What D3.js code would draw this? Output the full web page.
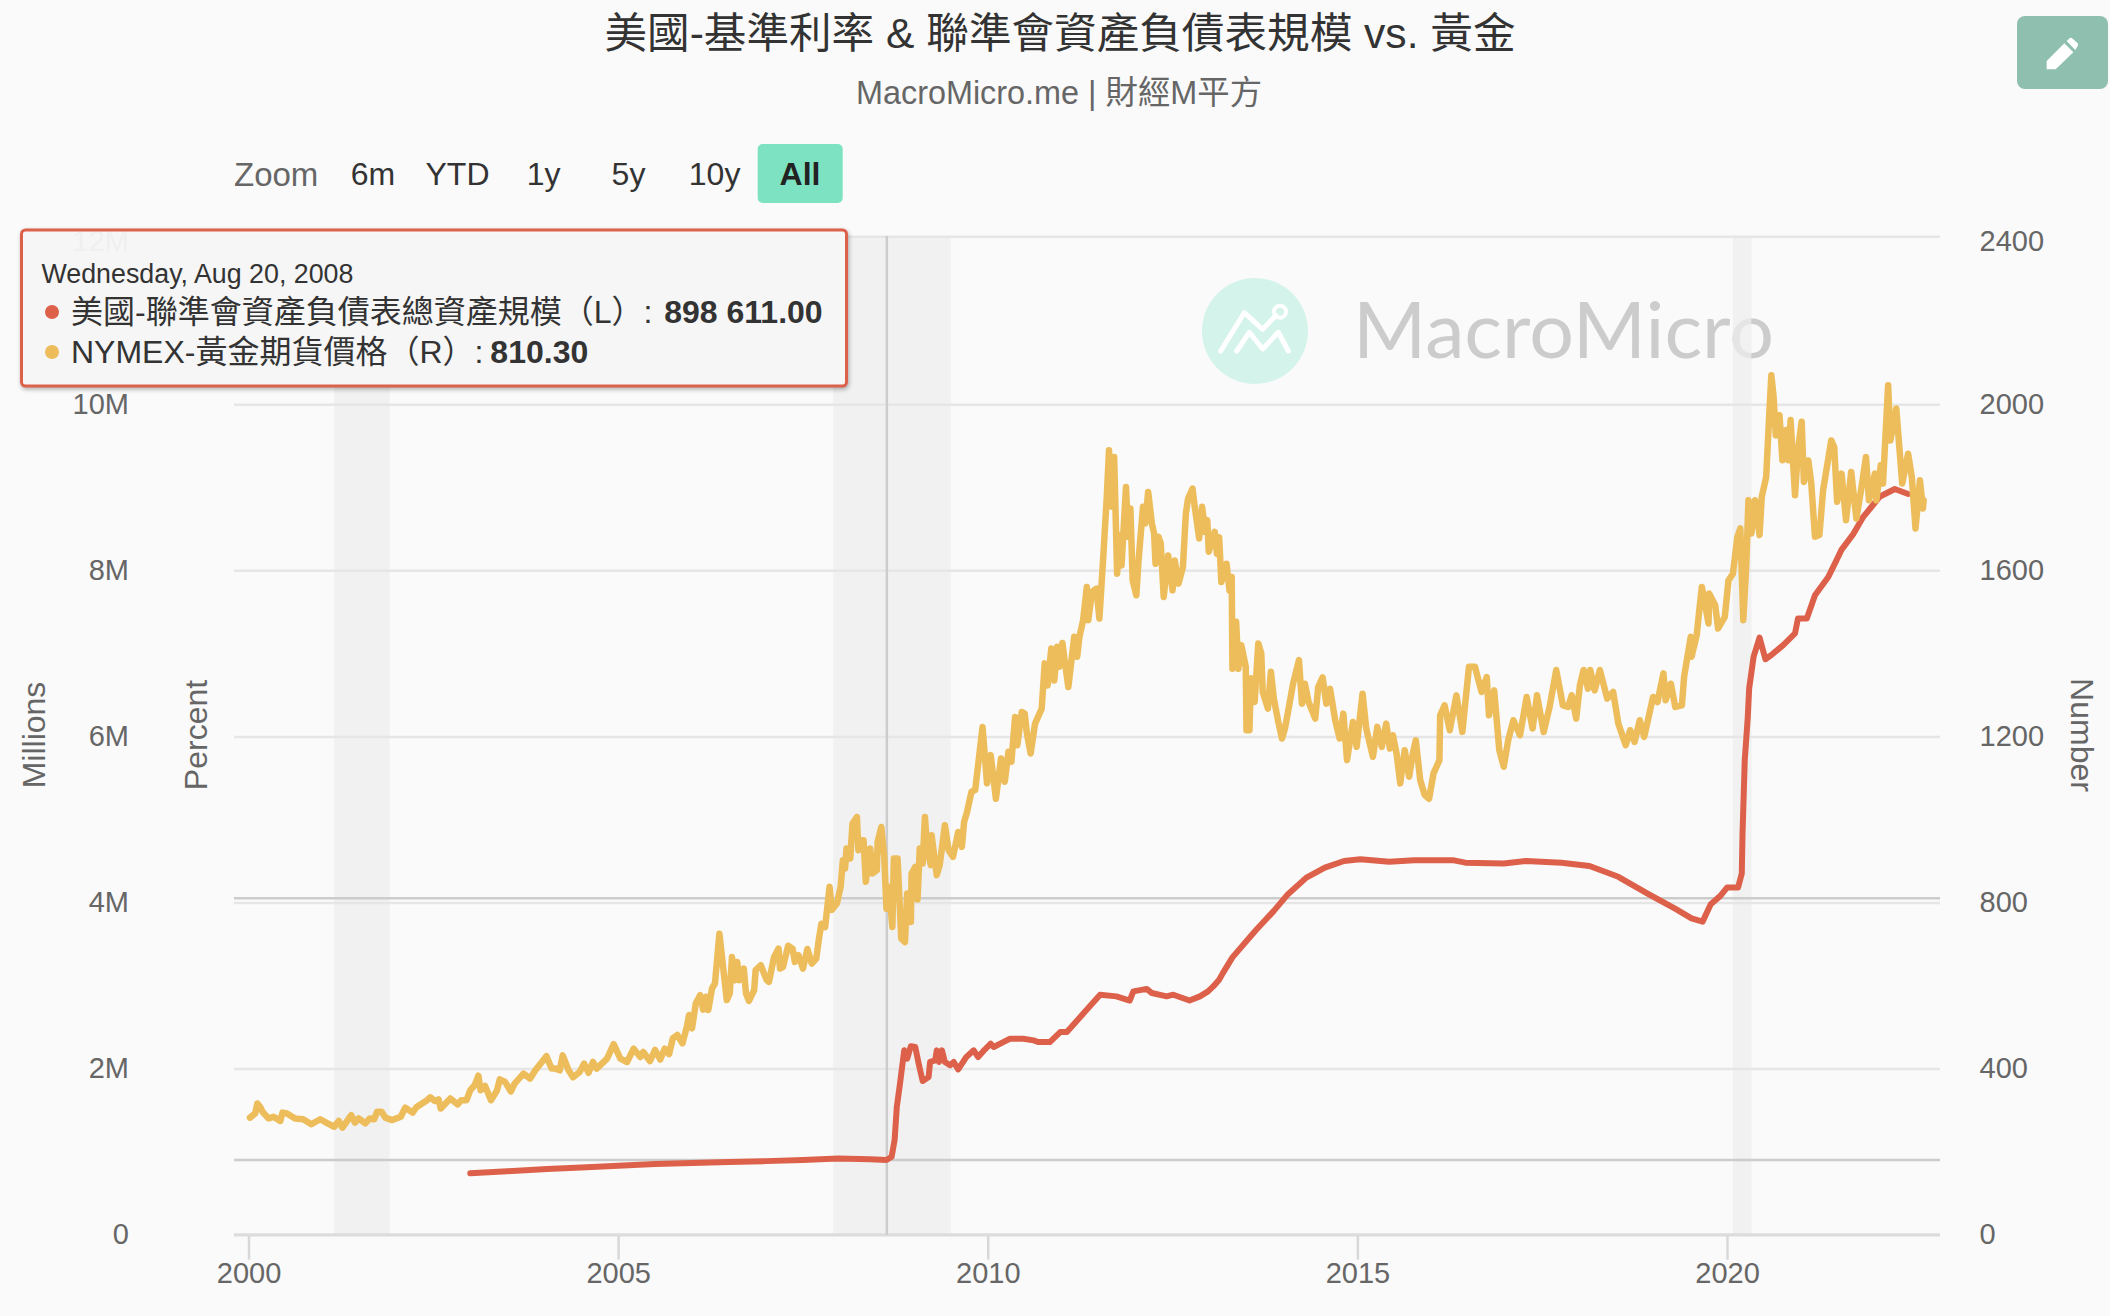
<!DOCTYPE html>
<html>
<head>
<meta charset="utf-8">
<script src="https://cdn.jsdelivr.net/npm/d3@7"></script>
<style>
body { margin: 0; background: #fafafa; }
svg { display: block; font-family: "Liberation Sans", "Noto Sans CJK TC", sans-serif; }
</style>
</head>
<body>
<div id="chart"></div>
<script>
var w = 2110;
var h = 1316;

// values
var goldYears = [
    2000.02,2000.09,2000.12,2000.16,2000.19,2000.27,2000.34,2000.43,2000.46,2000.52,2000.63,2000.74,2000.85,2000.97,
    2001.07,2001.16,2001.22,2001.27,2001.39,2001.44,2001.49,2001.58,2001.64,2001.70,2001.74,2001.80,2001.85,2001.94,
    2002.06,2002.12,2002.22,2002.27,2002.41,2002.46,2002.52,2002.57,2002.60,2002.73,2002.83,2002.88,2002.95,
    2003.00,2003.06,2003.11,2003.14,2003.20,2003.28,2003.36,2003.40,2003.47,2003.55,2003.60,2003.72,2003.81,2003.88,
    2004.03,2004.10,2004.15,2004.21,2004.25,2004.33,2004.39,2004.48,2004.54,2004.60,2004.66,2004.71,2004.85,2004.94,
    2005.03,2005.12,2005.21,2005.30,2005.34,2005.43,2005.50,2005.57,2005.63,2005.69,2005.74,2005.80,2005.87,2005.93,2005.96,
    2006.00,2006.05,2006.11,2006.15,2006.19,2006.22,2006.27,2006.31,2006.37,2006.41,2006.47,2006.51,2006.54,2006.58,2006.61,2006.64,2006.70,2006.73,2006.77,2006.84,2006.86,2006.93,
    2007.01,2007.04,2007.11,2007.17,2007.19,2007.23,2007.30,2007.36,2007.39,2007.44,2007.50,2007.56,2007.62,2007.68,2007.72,2007.75,2007.80,2007.86,2007.89,2007.96,
    2008.01,2008.04,2008.07,2008.09,2008.14,2008.17,2008.23,2008.25,2008.28,2008.32,2008.35,2008.41,2008.44,2008.50,2008.51,2008.56,2008.60,2008.63,2008.66,2008.71,2008.73,2008.78,2008.83,2008.88,2008.91,2008.96,2008.97,
    2009.02,2009.05,2009.08,2009.12,2009.15,2009.18,2009.23,2009.24,2009.31,2009.35,2009.42,2009.47,2009.53,2009.60,2009.65,2009.68,2009.72,2009.78,2009.83,2009.93,2009.99,
    2010.04,2010.11,2010.18,2010.23,2010.28,2010.32,2010.37,2010.40,2010.46,2010.50,2010.53,2010.58,2010.64,2010.73,2010.77,2010.81,2010.86,2010.90,2010.94,2010.97,
    2011.01,2011.04,2011.09,2011.17,2011.21,2011.24,2011.29,2011.34,2011.36,2011.41,2011.47,2011.51,2011.56,2011.61,2011.64,2011.68,2011.71,2011.75,2011.78,2011.81,2011.87,2011.90,2011.93,2011.96,
    2012.01,2012.04,2012.10,2012.13,2012.17,2012.22,2012.25,2012.27,2012.31,2012.34,2012.38,2012.44,2012.50,2012.53,2012.58,2012.64,2012.68,2012.71,2012.77,2012.80,2012.86,2012.90,2012.94,2012.97,2012.99,
    2013.07,2013.10,2013.13,2013.16,2013.23,2013.27,2013.30,2013.31,2013.36,2013.39,2013.43,2013.49,2013.50,2013.54,2013.56,2013.61,2013.66,2013.70,2013.72,2013.79,2013.83,2013.87,2013.93,2013.98,
    2014.02,2014.07,2014.13,2014.21,2014.25,2014.29,2014.34,2014.43,2014.47,2014.53,2014.58,2014.63,2014.70,2014.76,2014.81,2014.86,2014.94,2014.99,
    2015.07,2015.12,2015.21,2015.27,2015.33,2015.39,2015.44,2015.48,2015.53,2015.58,2015.64,2015.70,2015.75,2015.79,2015.85,2015.91,2015.97,
    2016.03,2016.11,2016.12,2016.18,2016.25,2016.34,2016.42,2016.51,2016.59,2016.68,2016.75,2016.78,2016.85,2016.92,2016.98,
    2017.04,2017.11,2017.20,2017.29,2017.37,2017.43,2017.52,2017.60,2017.69,2017.78,2017.85,2017.90,2017.96,
    2018.01,2018.06,2018.12,2018.15,2018.21,2018.28,2018.38,2018.46,2018.53,2018.63,2018.69,2018.75,2018.82,2018.88,
    2019.00,2019.06,2019.14,2019.17,2019.24,2019.30,2019.39,2019.42,2019.51,2019.52,2019.59,2019.63,2019.66,2019.75,2019.76,2019.84,2019.88,2019.97,
    2020.02,2020.08,2020.14,2020.18,2020.22,2020.26,2020.29,2020.33,2020.38,2020.44,2020.47,2020.53,2020.57,2020.60,2020.63,2020.66,2020.71,2020.75,2020.80,2020.83,2020.86,2020.92,2020.96,
    2021.01,2021.04,2021.10,2021.14,2021.19,2021.25,2021.30,2021.41,2021.45,2021.49,2021.55,2021.61,2021.68,2021.75,2021.82,2021.88,2021.92,
    2022.00,2022.02,2022.08,2022.11,2022.18,2022.21,2022.29,2022.37,2022.45,2022.50,2022.55,2022.61,2022.65,2022.66
];
var goldPrices = [
    282,292,316,307,296,280,284,274,294,292,280,278,266,278,
    268,260,274,258,288,270,280,268,280,278,296,296,282,276,
    284,306,294,307,323,331,322,326,304,328,314,324,324,
    348,360,383,348,358,324,347,374,368,345,364,388,376,396,
    430,400,400,396,432,396,379,392,412,390,416,400,424,459,
    424,416,448,428,440,418,445,422,448,435,473,481,461,501,529,
    497,557,577,542,573,541,593,605,725,661,565,581,669,613,657,613,641,581,563,589,637,649,
    613,609,669,689,641,645,696,689,657,673,641,688,653,665,717,749,741,838,782,798,
    838,902,882,930,906,990,1006,926,950,950,850,930,870,878,946,982,910,785,838,741,906,906,713,705,822,753,870,
    886,807,930,894,1006,934,890,962,866,890,986,926,910,970,934,994,1018,1067,1071,1223,1087,
    1155,1050,1147,1091,1163,1139,1247,1179,1259,1255,1207,1159,1231,1267,1376,1323,1412,1335,1416,1368,
    1425,1384,1319,1440,1392,1440,1480,1560,1480,1548,1556,1484,1624,1777,1889,1753,1873,1592,1685,1612,1801,1681,1749,1576,
    1540,1624,1753,1713,1789,1713,1689,1616,1681,1665,1536,1636,1552,1624,1568,1608,1737,1773,1797,1753,1677,1753,1693,1721,1645,
    1693,1640,1680,1572,1616,1552,1584,1363,1476,1363,1420,1368,1215,1215,1340,1283,1424,1400,1307,1267,1356,1291,1235,1195,
    1219,1267,1327,1384,1279,1327,1283,1243,1319,1342,1279,1315,1239,1195,1255,1143,1235,1175,
    1303,1219,1151,1223,1175,1231,1171,1203,1159,1087,1167,1103,1159,1191,1095,1059,1050,
    1111,1143,1251,1275,1215,1299,1211,1368,1368,1307,1343,1251,1311,1167,1127,
    1191,1239,1203,1295,1219,1299,1211,1271,1360,1275,1271,1299,1243,
    1323,1360,1315,1360,1311,1360,1291,1307,1231,1179,1215,1187,1239,1199,
    1295,1283,1352,1287,1327,1271,1275,1344,1440,1392,1444,1512,1560,1472,1544,1516,1460,1488,
    1576,1592,1680,1701,1480,1608,1769,1689,1769,1685,1777,1825,1970,2070,2018,1925,1974,1865,1938,1865,1962,1781,1889,
    1958,1813,1865,1809,1681,1685,1793,1913,1897,1765,1833,1721,1837,1725,1801,1873,1769,
    1833,1769,1853,1809,2046,1913,1990,1809,1881,1825,1701,1817,1749,1769
];
var assetYears = [
    2003.00,2003.50,2004.04,2004.50,2005.00,2005.50,2006.00,2006.50,2007.00,2007.50,2007.97,2008.41,2008.63,2008.70,2008.74,2008.77,2008.81,2008.87,2008.91,2008.96,
    2009.02,2009.07,2009.12,2009.20,2009.22,2009.29,2009.31,2009.34,2009.38,2009.42,2009.49,2009.54,2009.60,2009.71,2009.81,2009.87,2009.96,
    2010.04,2010.08,2010.21,2010.30,2010.48,2010.62,2010.68,2010.84,2010.98,2011.07,2011.29,2011.52,2011.74,2011.92,2011.97,
    2012.15,2012.22,2012.42,2012.51,2012.73,2012.87,2012.98,2013.05,2013.13,2013.18,2013.31,2013.62,2013.87,
    2014.05,2014.31,2014.56,2014.82,2015.04,2015.43,2015.77,2016.29,2016.46,2016.98,2017.28,2017.76,
    2018.14,2018.53,2018.92,2019.31,2019.52,2019.67,2019.78,2019.91,2020.00,2020.15,2020.20,2020.21,2020.24,2020.28,2020.30,2020.36,2020.44,2020.52,2020.60,2020.76,2020.92,2020.96,
    2021.08,2021.19,2021.37,2021.48,2021.55,2021.71,2021.84,2021.95,2022.07,2022.27,2022.45
];
var assetValues = [
    0.739,0.765,0.79,0.81,0.83,0.85,0.862,0.875,0.886,0.90,0.917,0.91,0.899,0.94,1.14,1.54,1.80,2.22,2.12,2.27,
    2.26,2.04,1.85,1.90,2.08,2.10,2.22,2.08,2.22,2.08,2.04,2.08,1.99,2.14,2.22,2.14,2.23,
    2.30,2.26,2.32,2.36,2.36,2.34,2.32,2.32,2.44,2.44,2.66,2.89,2.87,2.82,2.93,
    2.96,2.91,2.87,2.89,2.82,2.87,2.93,2.99,3.07,3.15,3.34,3.66,3.90,
    4.09,4.30,4.42,4.50,4.52,4.49,4.51,4.51,4.48,4.47,4.50,4.48,
    4.44,4.31,4.11,3.92,3.81,3.77,3.98,4.08,4.18,4.18,4.35,4.83,5.71,6.22,6.58,6.96,7.19,6.93,6.98,7.10,7.24,7.42,
    7.42,7.70,7.92,8.12,8.25,8.44,8.64,8.76,8.89,8.98,8.92
];
var recessions = [[2001.16, 2001.91], [2007.91, 2009.5], [2020.08, 2020.33]];
var xTicks = [2000, 2005, 2010, 2015, 2020];
var leftTicks = [0, 2, 4, 6, 8, 10, 12];
var rightTicks = [0, 400, 800, 1200, 1600, 2000, 2400];
var zoomButtons = ["6m", "YTD", "1y", "5y", "10y", "All"];
var hoverYear = 2008.635;
var hoverAsset = 0.898611;
var hoverGold = 810.3;

var red = "#dd614a";
var gold = "#edbd5b";

var plotLeft = 234, plotRight = 1940, plotTop = 236, plotBottom = 1234.7;
var scaleTop = 238.2;

var x = d3.scaleLinear().domain([2000, 2020]).range([248.5, 1727]);
var yLeft = d3.scaleLinear().domain([0, 12]).range([plotBottom, scaleTop]);
var yRight = d3.scaleLinear().domain([0, 2400]).range([plotBottom, scaleTop]);

var svg = d3.select("#chart").append("svg")
    .attr("width", w)
    .attr("height", h);

svg.append("rect").attr("width", w).attr("height", h).attr("fill", "#fafafa");

// title
svg.append("text").text("美國-基準利率 & 聯準會資產負債表規模 vs. 黃金")
    .attr("x", 1060).attr("y", 33).attr("dy", ".35em")
    .attr("text-anchor", "middle").attr("font-size", 42.6).attr("fill", "#333");
svg.append("text").text("MacroMicro.me | 財經M平方")
    .attr("x", 1059).attr("y", 93).attr("dy", ".35em")
    .attr("text-anchor", "middle").attr("font-size", 32.4).attr("fill", "#666");

// edit button
svg.append("rect").attr("x", 2017).attr("y", 16).attr("width", 91).attr("height", 73)
    .attr("rx", 8).attr("fill", "#8fbfae");
svg.append("path")
    .attr("transform", "translate(2010,10) scale(0.3333)")
    .attr("d", "M110,178 L110,153 L163,100 L190,127 L137,178 Z M170,93 L180,84 Q184,82 188,86 L203,100 Q206,104 203,108 L196,120 Z")
    .attr("fill", "#fff");

// zoom buttons
svg.append("text").text("Zoom").attr("x", 234).attr("y", 174).attr("dy", ".35em")
    .attr("font-size", 33).attr("fill", "#666");
svg.append("rect").attr("x", 757.7).attr("y", 144).attr("width", 85).attr("height", 59)
    .attr("rx", 5).attr("fill", "#7de2c2");
svg.selectAll(".zoom-btn")
    .data(zoomButtons)
    .enter()
    .append("text")
    .attr("class", "zoom-btn")
    .text(function (d) { return d; })
    .attr("x", function (d, i) { return [373, 457.5, 543.6, 628.5, 714.6, 800][i]; })
    .attr("y", 174).attr("dy", ".35em")
    .attr("text-anchor", "middle")
    .attr("font-size", 32)
    .attr("font-weight", function (d) { return d == "All" ? "bold" : "normal"; })
    .attr("fill", function (d) { return d == "All" ? "#222" : "#333"; });

// watermark
svg.append("circle").attr("cx", 1255).attr("cy", 331).attr("r", 53).attr("fill", "#d4f3ea");
svg.append("path")
    .attr("d", "M1220.7,351 L1244.3,312.7 L1262.7,329.3 L1276,315.5 M1236.7,351 L1249.3,332.3 L1262.7,349 L1278.3,332.3 L1288.3,351")
    .attr("fill", "none").attr("stroke", "#fff").attr("stroke-width", 5)
    .attr("stroke-linecap", "round").attr("stroke-linejoin", "round");
svg.append("circle").attr("cx", 1280).attr("cy", 311.7).attr("r", 6)
    .attr("fill", "none").attr("stroke", "#fff").attr("stroke-width", 4);
svg.append("text").text("MacroMicro")
    .attr("x", 1353).attr("y", 358)
    .attr("font-family", "Lato").attr("font-weight", 400).attr("font-size", 78)
    .attr("textLength", 421).attr("lengthAdjust", "spacingAndGlyphs")
    .attr("fill", "#cccccc");

// recession bands
svg.selectAll(".band")
    .data(recessions)
    .enter()
    .append("rect")
    .attr("class", "band")
    .attr("x", function (d) { return x(d[0]); })
    .attr("y", plotTop)
    .attr("width", function (d) { return x(d[1]) - x(d[0]); })
    .attr("height", plotBottom - plotTop)
    .attr("fill", "#eeeeee")
    .attr("opacity", 0.75);

// grid
var grid = svg.append("g")
    .attr("transform", "translate(" + plotLeft + ",0)")
    .call(d3.axisLeft(yLeft).tickValues(leftTicks).tickSize(-(plotRight - plotLeft)).tickFormat(""));
grid.select(".domain").remove();
grid.selectAll("line").attr("stroke", "#e6e6e6").attr("stroke-width", 2.5)
    .attr("transform", function (d) { return d == 12 ? "translate(0,-2)" : null; });

// axes
var xAxis = svg.append("g")
    .attr("transform", "translate(0," + plotBottom + ")")
    .call(d3.axisBottom(x).tickValues(xTicks).tickSize(25).tickPadding(3).tickFormat(d3.format("d")));
xAxis.select(".domain").remove();
xAxis.selectAll("line").attr("stroke", "#d8d8d8").attr("stroke-width", 2.5);
xAxis.selectAll("text").attr("font-size", 29).attr("font-family", null).attr("fill", "#666");
svg.append("line").attr("x1", plotLeft).attr("x2", plotRight).attr("y1", plotBottom).attr("y2", plotBottom)
    .attr("stroke", "#dcdcdc").attr("stroke-width", 3);

var axisLeft = svg.append("g")
    .attr("transform", "translate(" + plotLeft + ",0)")
    .call(d3.axisLeft(yLeft).tickValues(leftTicks).tickSize(0).tickPadding(105)
        .tickFormat(function (d) { return d ? d + "M" : "0"; }));
axisLeft.select(".domain").remove();
axisLeft.selectAll("text").attr("font-size", 29).attr("font-family", null).attr("fill", "#666")
    .attr("transform", function (d) { return d == 12 ? "translate(0,3)" : null; });

var axisRight = svg.append("g")
    .attr("transform", "translate(" + plotRight + ",0)")
    .call(d3.axisRight(yRight).tickValues(rightTicks).tickSize(0).tickPadding(39.5).tickFormat(d3.format("d")));
axisRight.select(".domain").remove();
axisRight.selectAll("text").attr("font-size", 29).attr("font-family", null).attr("fill", "#666")
    .attr("transform", function (d) { return d == 2400 ? "translate(0,3)" : null; });

// axis titles
function axisTitle(label, tx, ty, rot) {
    svg.append("text").text(label)
        .attr("transform", "translate(" + tx + "," + ty + ") rotate(" + rot + ")")
        .attr("dy", ".35em")
        .attr("text-anchor", "middle")
        .attr("font-size", 32)
        .attr("fill", "#666");
}
axisTitle("Millions", 34, 735, -90);
axisTitle("Percent", 196, 735, -90);
axisTitle("Number", 2082, 735, 90);

// crosshairs
svg.append("line").attr("x1", x(hoverYear)).attr("x2", x(hoverYear)).attr("y1", plotTop).attr("y2", plotBottom)
    .attr("stroke", "#cccccc").attr("stroke-width", 2.5);
svg.append("line").attr("x1", plotLeft).attr("x2", plotRight).attr("y1", yRight(hoverGold)).attr("y2", yRight(hoverGold))
    .attr("stroke", "#cccccc").attr("stroke-width", 2.5);
svg.append("line").attr("x1", plotLeft).attr("x2", plotRight).attr("y1", yLeft(hoverAsset)).attr("y2", yLeft(hoverAsset))
    .attr("stroke", "#cccccc").attr("stroke-width", 2.5);

// series
var assetLine = d3.line()
    .x(function (d, i) { return x(assetYears[i]); })
    .y(function (d) { return yLeft(d); });
var goldLine = d3.line()
    .x(function (d, i) { return x(goldYears[i]); })
    .y(function (d) { return yRight(d); });

svg.append("path").datum(assetValues).attr("d", assetLine)
    .attr("fill", "none").attr("stroke", red).attr("stroke-width", 6)
    .attr("stroke-linejoin", "round").attr("stroke-linecap", "round");
svg.append("path").datum(goldPrices).attr("d", goldLine)
    .attr("fill", "none").attr("stroke", gold).attr("stroke-width", 6.5)
    .attr("stroke-linejoin", "round").attr("stroke-linecap", "round");

// tooltip
var tip = svg.append("g");
tip.append("rect").attr("x", 21.5).attr("y", 230).attr("width", 825).attr("height", 156).attr("rx", 4)
    .attr("fill", "#fafafa").attr("fill-opacity", 0.94)
    .attr("stroke", red).attr("stroke-width", 3)
    .style("filter", "drop-shadow(1px 2px 2px rgba(0,0,0,0.3))");
tip.append("text").text("Wednesday, Aug 20, 2008")
    .attr("x", 41.5).attr("y", 274).attr("dy", ".35em").attr("font-size", 26.8).attr("fill", "#333");
tip.append("circle").attr("cx", 52).attr("cy", 312).attr("r", 7).attr("fill", red);
tip.append("circle").attr("cx", 52).attr("cy", 352).attr("r", 7).attr("fill", gold);

var tipLine1 = tip.append("text").attr("x", 71).attr("y", 312).attr("dy", ".35em")
    .attr("font-size", 32).attr("fill", "#333");
tipLine1.append("tspan").text("美國-聯準會資產負債表總資產規模（L）: ");
tipLine1.append("tspan").attr("font-weight", "bold").attr("dx", 3).text("898 611.00");
var tipLine2 = tip.append("text").attr("x", 71).attr("y", 352).attr("dy", ".35em")
    .attr("font-size", 32).attr("fill", "#333");
tipLine2.append("tspan").text("NYMEX-黃金期貨價格（R）: ");
tipLine2.append("tspan").attr("font-weight", "bold").attr("dx", -2).text("810.30");
</script>
</body>
</html>
